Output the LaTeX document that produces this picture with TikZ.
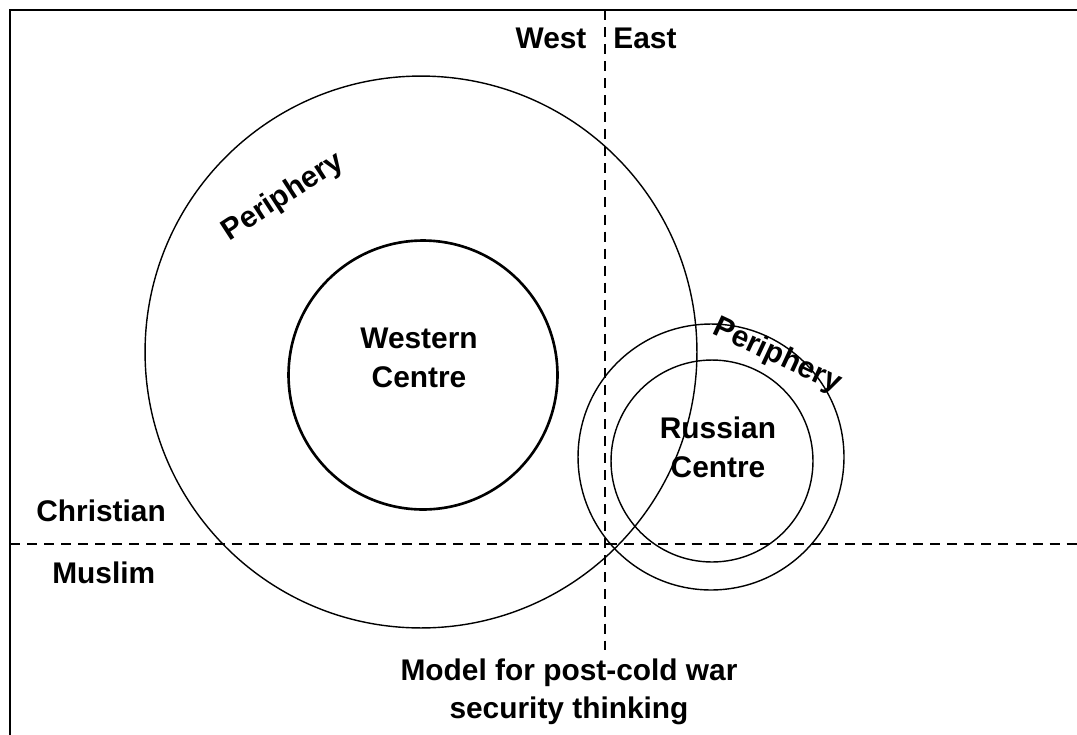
\documentclass[tikz,border=0pt]{standalone}
\usepackage{fontspec}
\setmainfont{Liberation Sans}
\usetikzlibrary{positioning,shapes}

\begin{document}
\begin{tikzpicture}[x=0.02cm,y=-0.02cm,thin]
\tikzstyle{ring}=[shape=circle,draw,inner sep=0pt,line width=0.8pt]
\tikzstyle{label}=[font=\fontsize{17}{22}\selectfont\bfseries,align=center,inner sep=0pt]
\tikzstyle{divide}=[dash pattern=on 5.7pt off 4pt,line width=1.4pt]

\useasboundingbox (0,0) rectangle (1077,734);
\draw[line width=1.6pt] (10,740) -- (10,10) -- (1080,10);

\node[ring]		(WP) at (421,352) [minimum size=11.04cm] {};
\node[ring]		(WC) at (423,375) [minimum size=5.38cm,line width=1.5pt] {};
\node[ring]		(RP) at (711,457) [minimum size=5.32cm] {};
\node[ring]		(RC) at (712,461) [minimum size=4.04cm] {};

\coordinate (N) at (605,10);
\coordinate (S) at (605,650);
\coordinate (W) at (10,544);
\coordinate (E) at (1077,544);

\node[label]	(west) at (551,38) {West};
\node[label]	(east) at (645,38) {East};
\node[label]	(chr) [anchor=west] at (36,511) {Christian};
\node[label]	(mus) [anchor=west] at (52,573) {Muslim};
\node[label]	(wc) at (419,358) {Western\\Centre};
\node[label]	(rc) at (718,447) {Russian\\Centre};
\node[label]	(wp) at (283,197) [rotate=33] {Periphery};
\node[label]	(rp) at (777,356) [rotate=-25] {Periphery};
\node[label]	(cap) at (569,692) {Model for post-cold war\\security thinking};

\path[divide]
(N) edge (S)
(W) edge (E)
;
\end{tikzpicture}
\end{document}
